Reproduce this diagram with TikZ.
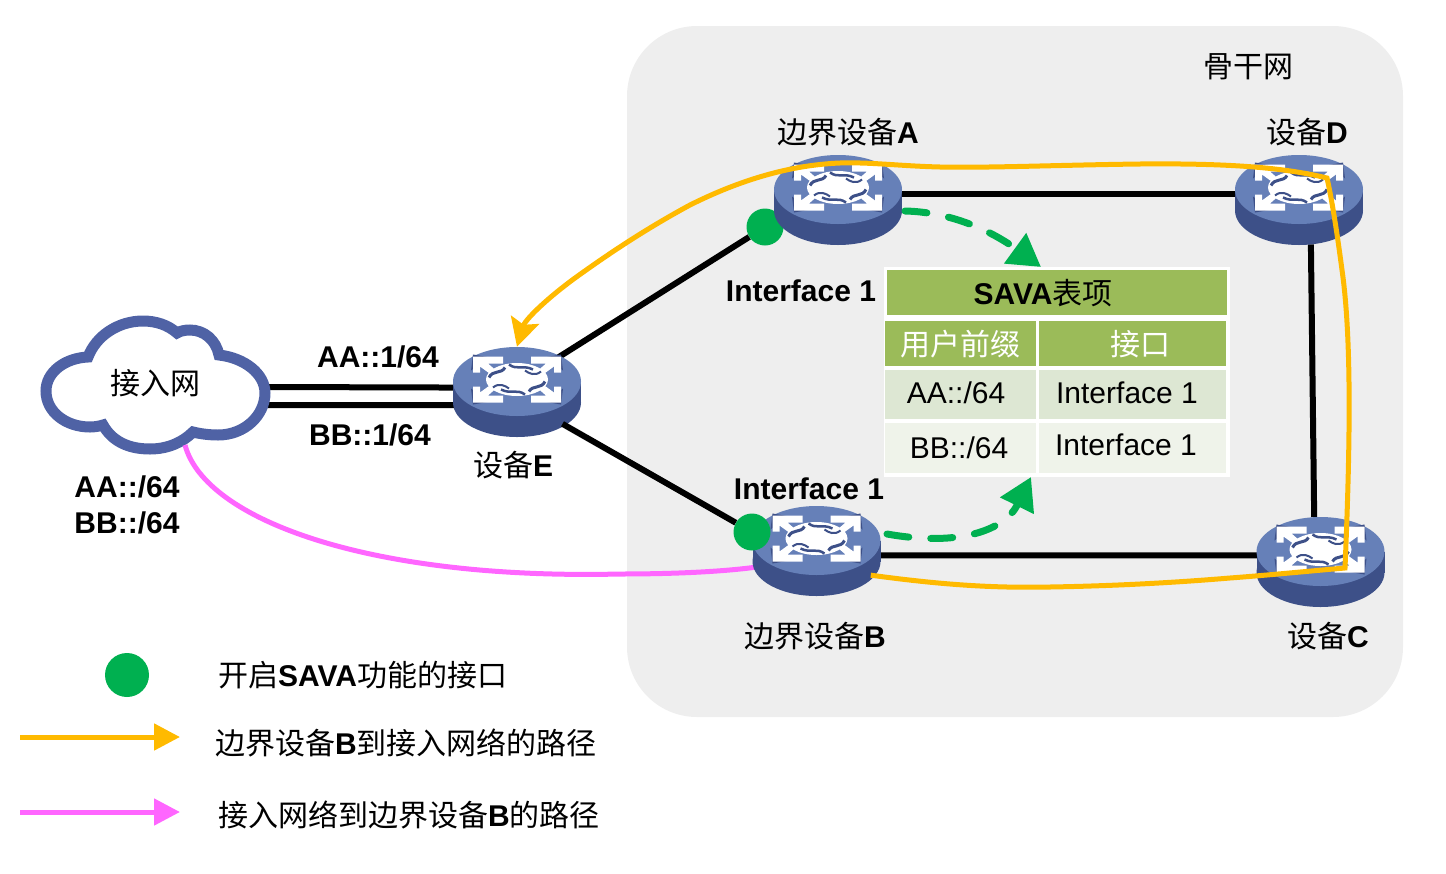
\documentclass[tikz,border=0pt]{standalone}
\usepackage{fontspec}
\setmainfont{Liberation Sans}
\newfontfamily\cjk{Noto Sans CJK SC}
\usetikzlibrary{arrows.meta}
\usetikzlibrary{shapes.geometric}
\newcommand{\cn}[1]{{\cjk #1}}
\definecolor{panelgray}{HTML}{EEEEEE}
\definecolor{hubtop}{HTML}{6680B8}
\definecolor{hubside}{HTML}{3D5088}
\definecolor{cloudblue}{HTML}{4F62A5}
\definecolor{savagreen}{HTML}{00B050}
\definecolor{tablehead}{HTML}{9BBB59}
\definecolor{rowone}{HTML}{DDE7D3}
\definecolor{rowtwo}{HTML}{EFF3EA}
\definecolor{pathorange}{HTML}{FFBA00}
\definecolor{pathpink}{HTML}{FF66FF}
\tikzset{
  hub/.style={ellipse,minimum width=128pt,minimum height=90pt,inner sep=0pt},
  savadot/.style={circle,fill=savagreen,minimum size=37pt,inner sep=0pt},
  link/.style={line width=6pt,black},
  txt/.style={inner sep=0pt,font=\fontsize{30}{33}\selectfont},
  txtb/.style={txt,font=\fontsize{30}{33}\selectfont\bfseries},
  orangeline/.style={line width=5pt,pathorange},
  pinkline/.style={line width=5pt,pathpink},
  savaflow/.style={line width=7pt,savagreen,dash pattern=on 22pt off 22pt,line cap=round},
}
\newcommand{\routerart}[1]{%
  \begin{scope}[shift={(#1.center)}]
    \fill[hubside] (0,10.5) ellipse [x radius=64,y radius=34.5];
    \fill[hubside] (-64,-10.5) rectangle (64,10.5);
    \fill[hubtop] (0,-10.5) ellipse [x radius=64,y radius=34.5];
    \begin{scope}[shift={(0,-12.5)}]
      \fill[white] (0,0) ellipse [x radius=31,y radius=16.5];
      \foreach \sx/\sy in {1/1,-1/1,1/-1,-1/-1} {
        \begin{scope}[xscale=\sx,yscale=\sy]
          % corner arrow and its shadow
          \fill[hubside] (36,17) -- (16,20) -- (44,25) -- (46,9) -- cycle;
          \fill[white] (44,23) -- (14,23) -- (14,16) -- (29,16) -- (21,9) -- (26,5) -- (37,13) -- (37,7) -- (44,7) -- cycle;
        \end{scope}
      }
      \draw[hubside,line width=2.5pt] (-8,-15) .. controls (0,-9) and (6,-15) .. (16,-10);
      \draw[hubside,line width=2.5pt] (-16,10) .. controls (-6,15) and (0,9) .. (8,15);
      \draw[hubside,line width=3pt] (-28,-2) .. controls (-24,-10) and (-16,-5) .. (-12,-12);
      \draw[hubside,line width=3pt] (28,2) .. controls (24,10) and (16,5) .. (12,12);
      \draw[hubside,line width=2pt] (-24,8) .. controls (-18,3) and (-12,6) .. (-8,9);
      \draw[hubside,line width=2pt] (24,-8) .. controls (18,-3) and (12,-6) .. (8,-9);
    \end{scope}
  \end{scope}
}
\begin{document}
\begin{tikzpicture}[x=1pt,y=-1pt]
  \useasboundingbox (0,0) rectangle (1446,873);
  \fill[panelgray,rounded corners=70pt] (627,26) rectangle (1403,717);

  \node[hub] (rA) at (838,200) {};
  \node[hub] (rD) at (1299,200) {};
  \node[hub] (rE) at (517,392) {};
  \node[hub] (rB) at (816.5,551) {};
  \node[hub] (rC) at (1320.5,562) {};
  \node[savadot] (dotA) at (765,227) {};
  \node[savadot,minimum size=44pt] (dotKey) at (127,675) {};

  \coordinate (netUp) at (262,387);
  \coordinate (netDown) at (262,405);
  \coordinate (netFoot) at (185,445);
  \draw[link] (netUp) -- (rE.176);
  \draw[link] (netDown) -- (rE.192);
  \draw[link] (rE.40) -- (dotA);
  \draw[link] (rA.5) -- (rD.175);
  \draw[link] (rD.-75) -- (rC.98);
  \draw[link] (rB.-4) -- (rC.174);

  % access network
  \draw[cloudblue,line width=11pt,fill=white] (88,357) .. controls (65,358) and (46,372) .. (46,391)
    .. controls (46,412) and (66,427) .. (90,427) .. controls (95,427) and (100,426) .. (103,425)
    .. controls (112,441) and (128,449) .. (150,449) .. controls (168,449) and (183,442) .. (193,432)
    .. controls (201,434) and (210,435) .. (218,435) .. controls (245,435) and (265,415) .. (265,393)
    .. controls (265,374) and (245,358) .. (219,355) .. controls (216,340) and (204,330) .. (190,330)
    .. controls (185,330) and (180,331) .. (177,333) .. controls (168,325) and (156,321) .. (143,321)
    .. controls (118,321) and (96,336) .. (88,357) -- cycle;
  \node[txt] (netLabel) at (155,383) {\cn{接入网}};

  \draw[pinkline] (netFoot) .. controls (205,520) and (370,580) .. (620,574) .. controls (670,574) and (720,572) .. (rB.195);

  \routerart{rA}
  \routerart{rD}
  \routerart{rE}
  \routerart{rB}
  \routerart{rC}

  \node[savadot] (dotB) at (752,532) {};
  \draw[link] (rE.-35) -- (dotB);

  \draw[orangeline,line join=miter,-{Stealth[length=28pt,width=29pt,inset=5pt]}] (rB.-24) .. controls (950,586) and (1000,588) .. (1050,587)
    .. controls (1110,586) and (1170,583) .. (1230,578)
    .. controls (1270,575) and (1310,571) .. (1345,568)
    .. controls (1350,450) and (1352,340) .. (1342,270)
    .. controls (1338,240) and (1333,205) .. (1327,178)
    .. controls (1290,169) and (1240,163) .. (1140,164)
    .. controls (1060,165) and (990,168) .. (940,167)
    .. controls (900,166) and (870,162) .. (840,163)
    .. controls (790,165) and (740,180) .. (690,205)
    .. controls (640,232) and (600,260) .. (575,278)
    .. controls (545,300) and (525,320) .. (rE.north);

  \coordinate (flowA) at (905,211);
  \coordinate (flowAEnd) at (1041,267);
  \coordinate (flowB) at (887,534);
  \coordinate (flowBEnd) at (1031,477);
  \draw[savaflow,-{Triangle[length=32pt,width=36pt]}] (flowA) .. controls (950,212) and (990,230) .. (flowAEnd);
  \draw[savaflow,-{Triangle[length=32pt,width=36pt]}] (flowB) .. controls (960,547) and (1005,530) .. (flowBEnd);

  % table
  \fill[white] (884,267) rectangle (1230,477);
  \fill[tablehead] (887,270) rectangle (1227,315);
  \fill[tablehead] (885,321) rectangle (1035.5,366);
  \fill[tablehead] (1039,321) rectangle (1226,366);
  \fill[rowone] (885,370) rectangle (1035.5,419);
  \fill[rowone] (1039,370) rectangle (1226,419);
  \fill[rowtwo] (885,423) rectangle (1035.5,473);
  \fill[rowtwo] (1039,423) rectangle (1226,473);
  \node[txt] (tabTitle) at (1043,293) {\textbf{SAVA}\cn{表项}};
  \node[txt,white] (tabPrefix) at (960,344) {\cn{用户前缀}};
  \node[txt,white] (tabPort) at (1140,344) {\cn{接口}};
  \node[txt] (cellAA) at (956,393) {AA::/64};
  \node[txt] (cellIfA) at (1127,393) {Interface 1};
  \node[txt] (cellBB) at (959,448) {BB::/64};
  \node[txt] (cellIfB) at (1126,445) {Interface 1};

  \node[txt] (nameBone) at (1248,67) {\cn{骨干网}};
  \node[txt] (nameA) at (848,132) {\cn{边界设备}\textbf{A}};
  \node[txt] (nameD) at (1307,132) {\cn{设备}\textbf{D}};
  \node[txt] (nameB) at (815,636) {\cn{边界设备}\textbf{B}};
  \node[txt] (nameC) at (1328,636) {\cn{设备}\textbf{C}};
  \node[txt] (nameE) at (513,465) {\cn{设备}\textbf{E}};
  \node[txtb] (portA) at (801,291) {Interface 1};
  \node[txtb] (portB) at (809,489) {Interface 1};
  \node[txtb] (addrA) at (378,357) {AA::1/64};
  \node[txtb] (addrB) at (370,435) {BB::1/64};
  \node[txtb] (preA) at (127,487) {AA::/64};
  \node[txtb] (preB) at (127,523) {BB::/64};

  % legend
  \coordinate (keyOrangeL) at (20,737);
  \coordinate (keyOrangeR) at (180,737);
  \coordinate (keyPinkL) at (20,812);
  \coordinate (keyPinkR) at (180,812);
  \draw[orangeline,-{Triangle[length=26pt,width=26pt]}] (keyOrangeL) -- (keyOrangeR);
  \draw[pinkline,-{Triangle[length=26pt,width=26pt]}] (keyPinkL) -- (keyPinkR);
  \node[txt,anchor=west] (keyDot) at (218,675) {\cn{开启}\textbf{SAVA}\cn{功能的接口}};
  \node[txt,anchor=west] (keyOrange) at (215,743) {\cn{边界设备}\textbf{B}\cn{到接入网络的路径}};
  \node[txt,anchor=west] (keyPink) at (218,815) {\cn{接入网络到边界设备}\textbf{B}\cn{的路径}};
\end{tikzpicture}
\end{document}
